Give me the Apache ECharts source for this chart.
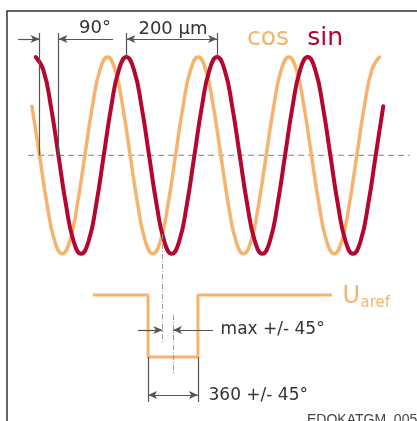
<!DOCTYPE html>
<html><head><meta charset="utf-8">
<script src="https://cdn.jsdelivr.net/npm/echarts@6/dist/echarts.min.js"></script>
<style>html,body{margin:0;padding:0;background:#fff}#c{width:417px;height:421px}</style>
</head><body><div id="c"></div>
<script>
// ---- data (phase in degrees of the sin track) ----
const sinPhase = [90,120,150,180,210,240,270,300,330,360,390,420,450,480,510,540,570,600,630,660,690,720,750,780,810,840,870,900,930,960,990,1020,1050,1080,1110,1140,1170,1200,1230,1260,1290,1320,1350,1380,1410,1440,1470];
const sinValue = [1,0.87,0.5,0,-0.5,-0.87,-1,-0.87,-0.5,0,0.5,0.87,
                  1,0.87,0.5,0,-0.5,-0.87,-1,-0.87,-0.5,0,0.5,0.87,
                  1,0.87,0.5,0,-0.5,-0.87,-1,-0.87,-0.5,0,0.5,0.87,
                  1,0.87,0.5,0,-0.5,-0.87,-1,-0.87,-0.5,0,0.5];
const cosPhase = [75,105,135,165,195,225,255,285,315,345,375,405,435,465,495,525,555,585,615,645,675,705,735,765,795,825,855,885,915,945,975,1005,1035,1065,1095,1125,1155,1185,1215,1245,1275,1305,1335,1365,1395,1425,1455];
const cosValue = [0.5,0,-0.5,-0.87,-1,-0.87,-0.5,0,0.5,0.87,1,0.87,
                  0.5,0,-0.5,-0.87,-1,-0.87,-0.5,0,0.5,0.87,1,0.87,
                  0.5,0,-0.5,-0.87,-1,-0.87,-0.5,0,0.5,0.87,1,0.87,
                  0.5,0,-0.5,-0.87,-1,-0.87,-0.5,0,0.5,0.87,1];
const centerPhase = [60,1576];
const centerValue = [0,0];
const uarefPhase = [317,536,536,734,734,1266];
const uarefLevel = [1,1,0,0,1,1];
const labels = {deg:'90°', pitch:'200 µm', cos:'cos', sin:'sin', max:'max +/- 45°', width:'360 +/- 45°', u:'U', sub:'aref', code:'EDOKATGM_0058'};

// ---- style ----
const ORANGE='#f4b46e', RED='#b4062f', DIM='#555', DASH='#9a9a9a';
const FONT='DejaVu Sans';
const pairs=(xs,ys)=>xs.map((x,i)=>[x,ys[i]]);
function txt(coord,text,size,color,pos){
  return {coord, symbol:'circle', symbolSize:1, itemStyle:{color:'rgba(0,0,0,0)'},
    label:{show:true, position:pos||'inside', distance:0, formatter:text, fontFamily:FONT, fontSize:size, color:color}};
}
function seg(a,b,s0,s1,ls){
  return [{coord:a, symbol:s0||'none', symbolSize:[6,9], lineStyle:ls}, {coord:b, symbol:s1||'none', symbolSize:[6,9]}];
}
const dashDot={color:DASH, width:1, type:[5,2,1,2]};

const chart = echarts.init(document.getElementById('c'));
const X_MIN=-52, X_MAX=1604;
chart.setOption({
  animation:false,
  backgroundColor:'#fff',
  grid:[{left:0,right:0,top:0,bottom:0},{left:0,right:0,top:295,bottom:0}],
  xAxis:[{gridIndex:0,type:'value',min:X_MIN,max:X_MAX,show:false},
         {gridIndex:1,type:'value',min:X_MIN,max:X_MAX,show:false}],
  yAxis:[{gridIndex:0,type:'value',min:-2.7,max:1.58,show:false},
         {gridIndex:1,type:'value',min:-1.032,max:1,show:false}],
  graphic:[
    {type:'polyline', silent:true, shape:{points:[[7,421],[7,11],[417,11]]}, style:{stroke:'#333',lineWidth:1.5,fill:null}},
    {type:'text', left:307, top:413, silent:true, style:{text:labels.code, font:'14px "Liberation Sans"', fill:'#444'}}
  ],
  series:[
    {name:'center', type:'line', xAxisIndex:0, yAxisIndex:0, data:pairs(centerPhase,centerValue), showSymbol:false, silent:true,
     lineStyle:{color:DASH, width:1.3, type:[6,4]}},
    {name:'cos', type:'line', xAxisIndex:0, yAxisIndex:0, data:pairs(cosPhase,cosValue), smooth:true, showSymbol:false,
     lineStyle:{color:ORANGE, width:3.5, cap:'round'}},
    {name:'sin', type:'line', xAxisIndex:0, yAxisIndex:0, data:pairs(sinPhase,sinValue), smooth:true, showSymbol:false,
     lineStyle:{color:RED, width:4, cap:'round'}},
    {name:'annot', type:'line', xAxisIndex:0, yAxisIndex:0, data:[], clip:false, silent:true,
     markLine:{silent:true, animation:false, symbol:['none','none'], label:{show:false}, lineStyle:{color:DIM,width:1.2,type:'solid'},
       data:[
         seg([105,1.244],[105,0]),
         seg([180,1.244],[180,0]),
         seg([20,1.183],[105,1.183],'none','arrow'),
         seg([397,1.183],[180,1.183],'none','arrow'),
         seg([450,1.244],[450,1.0]),
         seg([810,1.244],[810,1.0]),
         seg([450,1.183],[810,1.183],'arrow','arrow'),
         seg([593,-0.8],[593,-1.897],'none','none',dashDot)
       ]},
     markPoint:{silent:true, animation:false, data:[
       txt([325,1.29],labels.deg,18,'#333'),
       txt([635,1.285],labels.pitch,18,'#333'),
       txt([1012,1.193],labels.cos,25,ORANGE),
       txt([1239,1.193],labels.sin,25,RED)
     ]}},
    {name:'Uaref', type:'line', xAxisIndex:1, yAxisIndex:1, data:pairs(uarefPhase,uarefLevel), showSymbol:false, clip:false,
     lineStyle:{color:ORANGE, width:3},
     markLine:{silent:true, animation:false, symbol:['none','none'], label:{show:false}, lineStyle:{color:DIM,width:1.2,type:'solid'},
       data:[
         seg([635,0.677],[635,-0.258],'none','none',dashDot),
         seg([496,0.435],[593,0.435],'none','arrow'),
         seg([794,0.435],[635,0.435],'none','arrow'),
         seg([536,0],[536,-0.726]),
         seg([734,0],[734,-0.726]),
         seg([536,-0.613],[734,-0.613],'arrow','arrow')
       ]},
     markPoint:{silent:true, animation:false, data:[
       txt([822,0.435],labels.max,17,'#333','right'),
       txt([774,-0.629],labels.width,17,'#333','right'),
       txt([1306,0.976],labels.u,24,ORANGE,'right'),
       txt([1378,0.871],labels.sub,15,ORANGE,'right')
     ]}}
  ]
});
</script></body></html>
